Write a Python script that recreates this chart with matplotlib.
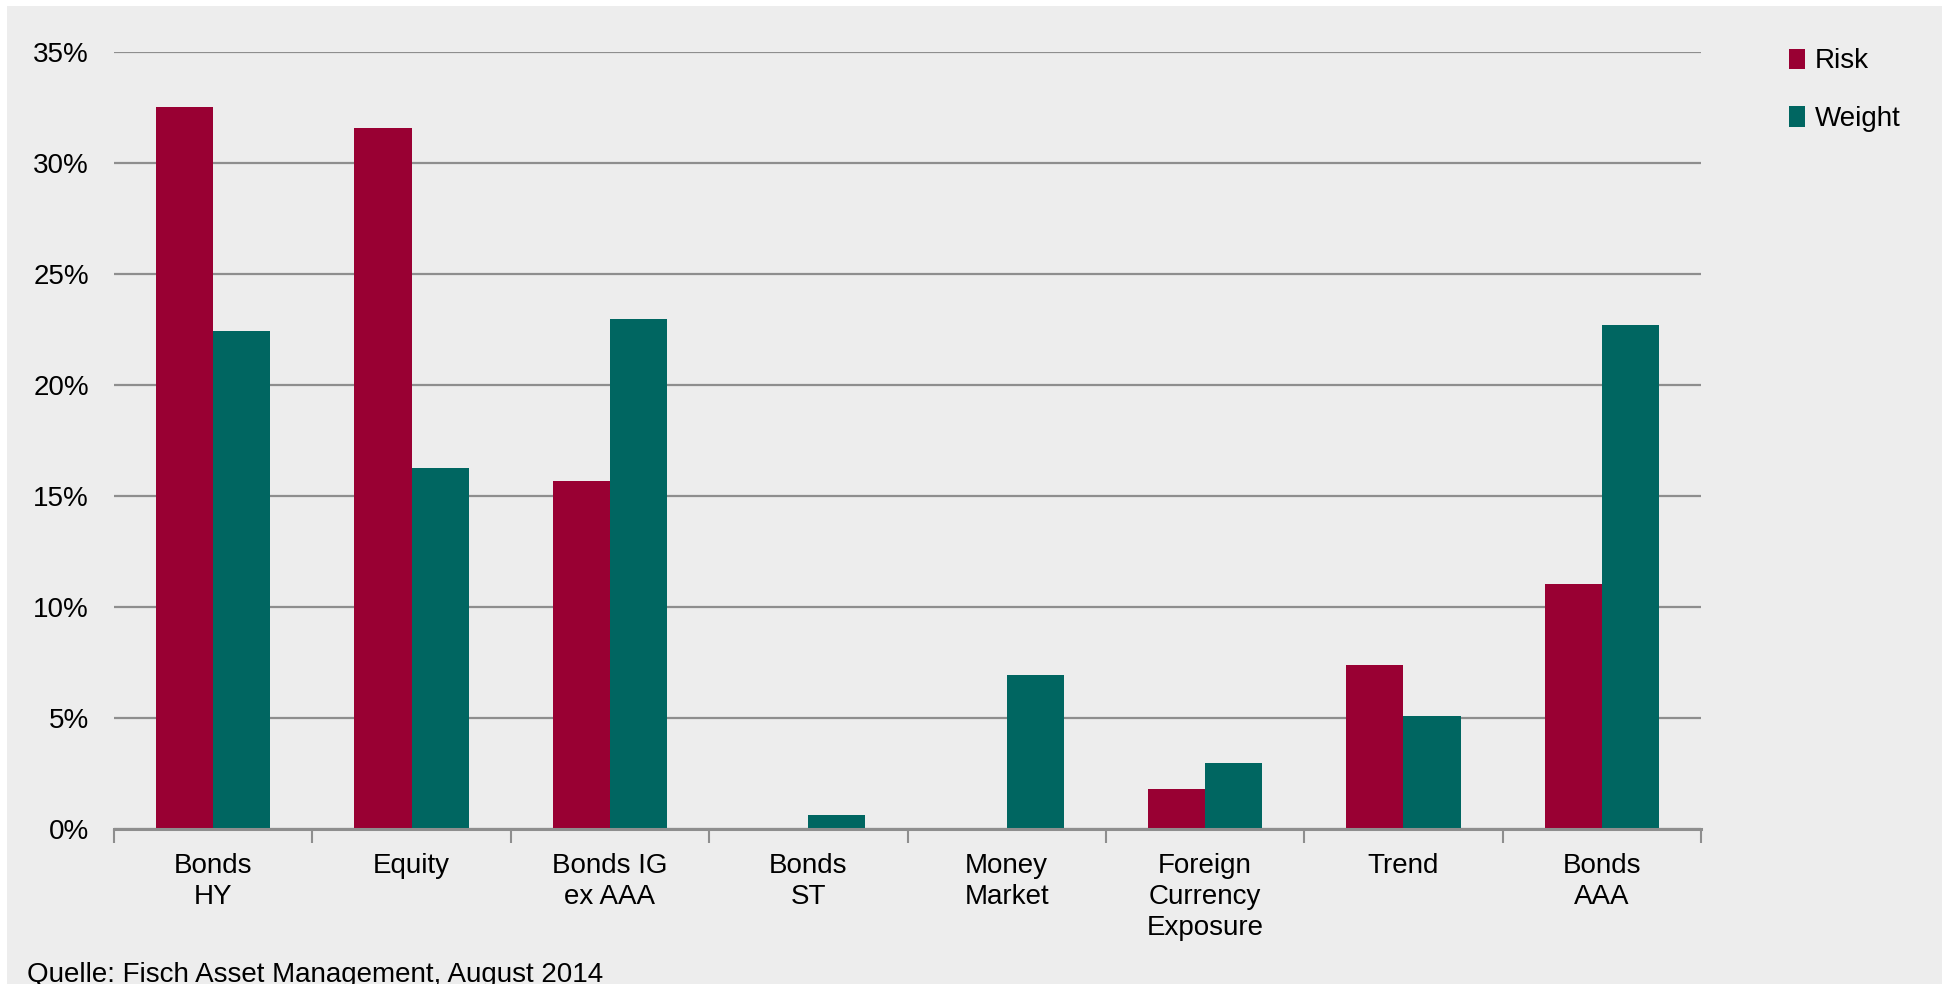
import matplotlib.pyplot as plt
import numpy as np

categories = ['Bonds\nHY', 'Equity', 'Bonds IG\nex AAA', 'Bonds\nST', 'Money\nMarket',
              'Foreign\nCurrency\nExposure', 'Trend', 'Bonds\nAAA']
risk = [32.55, 31.6, 15.66, 0.0, 0.0, 1.79, 7.38, 11.02]
weight = [22.43, 16.28, 22.99, 0.62, 6.94, 2.96, 5.09, 22.71]
yticks = [0, 5, 10, 15, 20, 25, 30, 35]

red = '#990033'
teal = '#006661'
bg = '#ededed'
grid = '#8e8e8e'

plt.rcParams['font.family'] = ['Liberation Sans Narrow', 'Liberation Sans', 'DejaVu Sans']

fig = plt.figure(figsize=(19.46, 9.84), dpi=100)
fig.patch.set_facecolor('white')
# grey panel behind everything
fig.patches.append(plt.Rectangle((0.0036, 0), 0.9944, 0.9939, transform=fig.transFigure,
                                 facecolor=bg, edgecolor='none', zorder=-1))

ax = fig.add_axes([0.0586, 0.1575, 0.8155, 0.7895])
ax.set_facecolor(bg)

x = np.arange(len(categories)) + 0.5
w = 0.288
ax.bar(x - w / 2, risk, w, color=red, label='Risk', zorder=3)
ax.bar(x + w / 2, weight, w, color=teal, label='Weight', zorder=3)

ax.set_xlim(0, len(categories))
ax.set_ylim(0, 35)
ax.set_yticks(yticks)
ax.set_yticklabels([f'{v}%' for v in yticks], fontsize=20)
ax.yaxis.grid(True, color=grid, linewidth=1.6, zorder=0)
ax.tick_params(axis='y', length=0, pad=18)

ax.set_xticks(np.arange(len(categories) + 1))
ax.set_xticklabels([])
ax.tick_params(axis='x', which='major', length=10, width=1.5, color=grid, direction='out')
ax.set_xticks(x, minor=True)
ax.set_xticklabels(categories, minor=True, fontsize=20, linespacing=1.25)
ax.tick_params(axis='x', which='minor', length=0, pad=17)

for s in ['top', 'right', 'left']:
    ax.spines[s].set_visible(False)
ax.spines['bottom'].set_color(grid)
ax.spines['bottom'].set_linewidth(2.2)
ax.spines['bottom'].set_zorder(4)

leg = ax.legend(loc='upper left', bbox_to_anchor=(1.04, 1.037), frameon=False, fontsize=20,
                handlelength=0.55, handleheight=0.75, handletextpad=0.35, labelspacing=1.15)

fig.text(0.0139, 0.022, 'Quelle: Fisch Asset Management, August 2014', fontsize=20, va='top')

fig.savefig('out.png', dpi=100, facecolor='white')
